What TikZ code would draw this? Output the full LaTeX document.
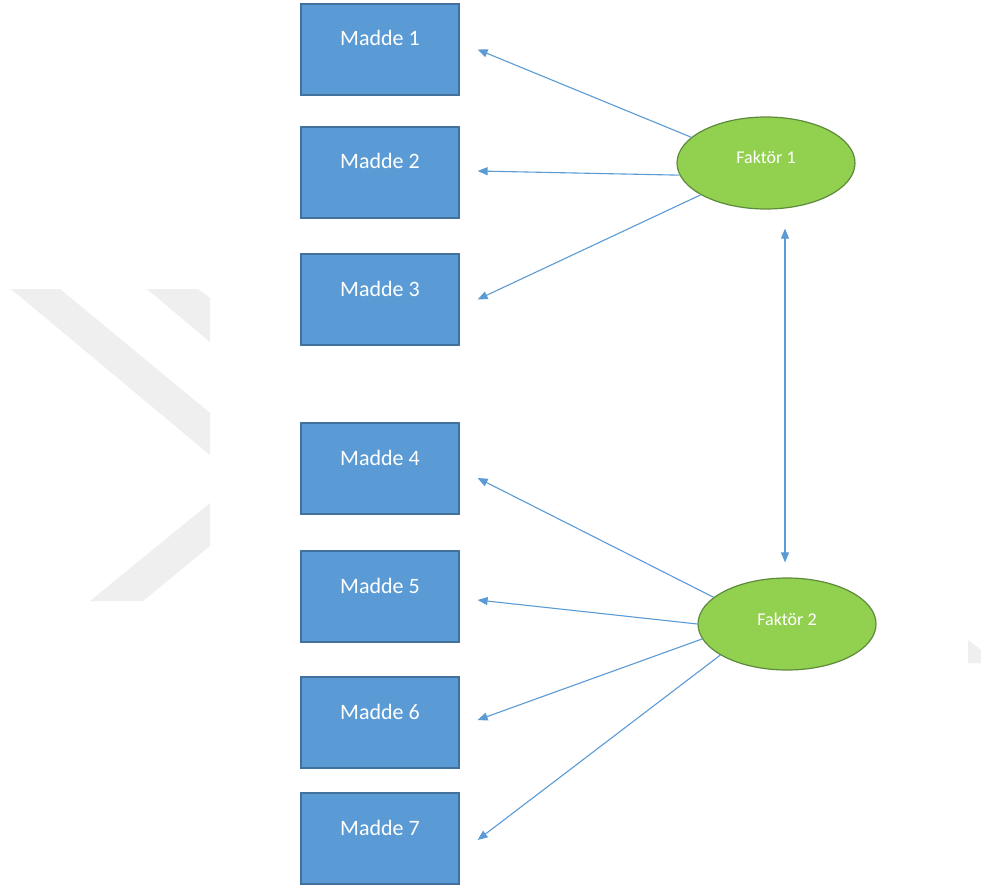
\documentclass[tikz,border=0pt]{standalone}
\usepackage{fontspec}
\setmainfont{Carlito}
\usetikzlibrary{arrows.meta,shapes.geometric,calc}
\definecolor{itemfill}{HTML}{5B9BD5}
\definecolor{itemedge}{HTML}{41719C}
\definecolor{factfill}{HTML}{92D050}
\definecolor{factedge}{HTML}{5E8A3C}
\definecolor{linkblue}{HTML}{5B9BD5}
\definecolor{wmgrey}{HTML}{EFEFEF}
\begin{document}
\begin{tikzpicture}[x=1pt,y=-1pt,
  item/.style={draw=itemedge, line width=1.2pt, fill=itemfill,
    minimum width=158pt, minimum height=91pt, inner sep=0pt,
    text=white, font=\fontsize{22}{26}\selectfont,
    text height=15pt, text depth=22pt},
  factor/.style={ellipse, draw=factedge, line width=1.2pt, fill=factfill,
    minimum width=178pt, minimum height=92pt, inner sep=0pt,
    text=white, font=\fontsize{18}{22}\selectfont,
    text height=12pt, text depth=10pt},
  tip/.tip={Triangle[length=10pt,width=8pt]},
  link/.style={draw=linkblue, line width=1.1pt, -tip},
  twoway/.style={draw=linkblue, line width=1.1pt, tip-tip}
]
\useasboundingbox (0,0) rectangle (981,890);
\fill[white] (0,0) rectangle (981,890);

% faint background chevrons
\fill[wmgrey] (11,289) -- (60,289) -- (210,413) -- (210,455) -- cycle;
\fill[wmgrey] (147,289) -- (198,289) -- (210,298) -- (210,342) -- cycle;
\fill[wmgrey] (210,503) -- (210,546) -- (143,601) -- (90,601) -- cycle;
\fill[wmgrey] (968,640) -- (981,650) -- (981,663) -- (968,663) -- cycle;

% items
\node[item] (m1) at (380,49.5)  {Madde 1};
\node[item] (m2) at (380,172.5) {Madde 2};
\node[item] (m3) at (380,299.5) {Madde 3};
\node[item] (m4) at (380,468.5) {Madde 4};
\node[item] (m5) at (380,596.5) {Madde 5};
\node[item] (m6) at (380,722.5) {Madde 6};
\node[item] (m7) at (380,838.5) {Madde 7};

% factors
\node[factor] (f1) at (766,163) {Faktör 1};
\node[factor] (f2) at (787,624) {Faktör 2};

% loadings
\draw[link] (f1.161.6) -- ([xshift=18pt]m1.east);
\draw[link] (f1.188.7) -- ([xshift=18pt,yshift=1.5pt]m2.east);
\draw[link] (f1.206.9) -- ([xshift=18pt]m3.east);
\draw[link] (f2.160.7) -- ([xshift=18pt,yshift=-9.5pt]m4.east);
\draw[link] (f2.180.6) -- ([xshift=18pt,yshift=-3.5pt]m5.east);
\draw[link] (f2.190)   -- ([xshift=18pt,yshift=2.5pt]m6.east);
\draw[link] (f2.205.6) -- ([xshift=18pt,yshift=-1.5pt]m7.east);

% factor covariance
\draw[twoway] ($(f1.south)+(19,19)$) -- ($(f2.north)+(-2,-15)$);
\end{tikzpicture}
\end{document}
